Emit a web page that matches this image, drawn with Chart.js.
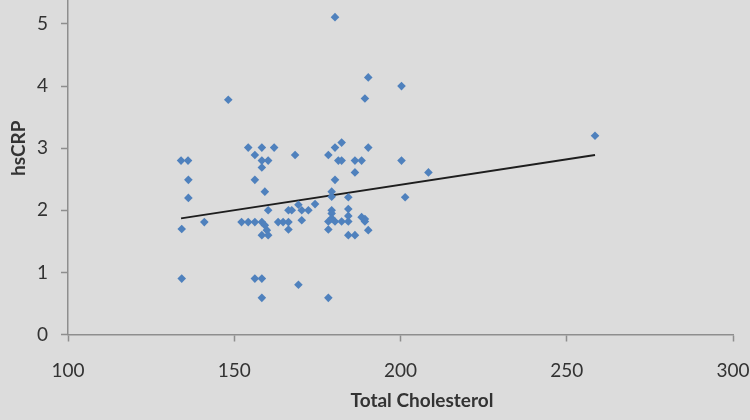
<!DOCTYPE html>
<html>
<head>
<meta charset="utf-8">
<script src="https://cdn.jsdelivr.net/npm/chart.js@4.4.1/dist/chart.umd.min.js"></script>
<style>
  html, body { margin: 0; padding: 0; background: #dcdcdc; overflow: hidden; }
  #wrap { position: absolute; left: 0; top: -50px; width: 750px; height: 470px; }
</style>
</head>
<body>
<div id="wrap"><canvas id="chart"></canvas></div>
<script>
// Total cholesterol (x) and hsCRP (y)
const cholesterol = [
  134.0, 136.1, 136.2, 136.2, 134.2, 141.0, 134.2, 148.2,
  154.2, 158.3, 162.0, 156.2, 158.3, 160.2, 158.3, 156.2, 159.2, 160.2,
  152.2, 154.2, 156.2, 158.3, 159.2, 159.8, 158.3, 160.2,
  163.2, 164.7, 166.3, 166.3, 166.3, 167.3, 169.3, 170.3, 172.3, 174.3, 170.3, 168.3,
  156.2, 158.3, 158.3, 169.3, 178.3,
  178.3, 180.3, 182.3, 181.3, 182.3, 186.3, 188.3, 190.3, 186.3, 180.3,
  179.3, 179.3, 184.3, 179.3, 179.3, 184.3, 178.3, 180.3, 182.3, 184.3,
  179.3, 184.3, 188.3, 189.3, 189.3, 178.3, 184.3, 186.3, 190.3,
  180.3, 190.3, 200.3, 189.3, 200.3, 201.4, 208.4, 258.5
];
const hsCRP = [
  2.80, 2.80, 2.49, 2.20, 1.70, 1.81, 0.90, 3.78,
  3.01, 3.01, 3.01, 2.89, 2.80, 2.80, 2.69, 2.49, 2.30, 2.00,
  1.81, 1.81, 1.81, 1.81, 1.76, 1.68, 1.60, 1.60,
  1.81, 1.81, 1.81, 1.69, 2.00, 2.00, 2.09, 2.00, 2.00, 2.10, 1.84, 2.89,
  0.90, 0.90, 0.59, 0.80, 0.59,
  2.89, 3.01, 3.09, 2.80, 2.80, 2.80, 2.80, 3.01, 2.61, 2.49,
  2.30, 2.22, 2.21, 2.00, 1.95, 2.02, 1.82, 1.82, 1.82, 1.82,
  1.87, 1.91, 1.89, 1.86, 1.82, 1.69, 1.60, 1.60, 1.68,
  5.11, 4.14, 4.00, 3.80, 2.80, 2.21, 2.61, 3.20
];
// Linear trendline end points as drawn
const trendX = [134.0, 258.5];
const trendY = [1.87, 2.89];

const xTicks = [100, 150, 200, 250, 300];
const yTicks = [0, 1, 2, 3, 4, 5, 6];

const axisColor = "#8e8e8e";
const textColor = "#333333";

// x axis title sits right of centre in the original, so draw it by hand
const xTitlePlugin = {
  id: "xTitle",
  afterDraw(chart) {
    const ctx = chart.ctx;
    ctx.save();
    ctx.font = "bold 19px Lato";
    ctx.fillStyle = textColor;
    ctx.textAlign = "center";
    ctx.textBaseline = "middle";
    ctx.fillText("Total Cholesterol", 422, 451);
    ctx.restore();
  },
};

new Chart(document.getElementById("chart"), {
  type: "scatter",
  data: {
    datasets: [
      {
        label: "hsCRP",
        data: cholesterol.map((x, i) => ({ x: x, y: hsCRP[i] })),
        pointStyle: "rectRot",
        pointRadius: 4.3,
        pointBorderWidth: 0,
        backgroundColor: "#4f81bd",
        borderColor: "#4f81bd",
      },
      {
        label: "Linear",
        data: trendX.map((x, i) => ({ x: x, y: trendY[i] })),
        showLine: true,
        pointRadius: 0,
        borderColor: "#1e1e1e",
        borderWidth: 2,
      },
    ],
  },
  options: {
    responsive: true,
    maintainAspectRatio: false,
    animation: false,
    devicePixelRatio: 1,
    layout: { padding: 0 },
    plugins: { legend: { display: false }, tooltip: { enabled: false } },
    scales: {
      x: {
        type: "linear",
        min: xTicks[0],
        max: xTicks[xTicks.length - 1],
        afterBuildTicks: (scale) => { scale.ticks = xTicks.map((v) => ({ value: v })); },
        afterFit: (scale) => { scale.height = 85.5; scale.paddingRight = 17; scale.paddingLeft = 0; },
        grid: { drawOnChartArea: false, tickLength: 7, tickColor: axisColor, tickWidth: 1.5 },
        border: { color: axisColor, width: 1.5 },
        ticks: { color: textColor, padding: 18, font: { family: "Lato", size: 19 } },
      },
      y: {
        type: "linear",
        min: yTicks[0],
        max: yTicks[yTicks.length - 1],
        afterBuildTicks: (scale) => { scale.ticks = yTicks.map((v) => ({ value: v })); },
        afterFit: (scale) => { scale.width = 68; scale.paddingTop = 11.9; scale.paddingBottom = 0; },
        grid: { drawOnChartArea: false, tickLength: 7, tickColor: axisColor, tickWidth: 1.5 },
        border: { color: axisColor, width: 1.5 },
        ticks: { color: textColor, padding: 13, font: { family: "Lato", size: 19 } },
        title: {
          display: true,
          text: "hsCRP",
          color: textColor,
          font: { family: "Lato", size: 19, weight: "bold" },
          padding: { top: 7, bottom: 0 },
        },
      },
    },
  },
  plugins: [xTitlePlugin],
});
</script>
</body>
</html>
